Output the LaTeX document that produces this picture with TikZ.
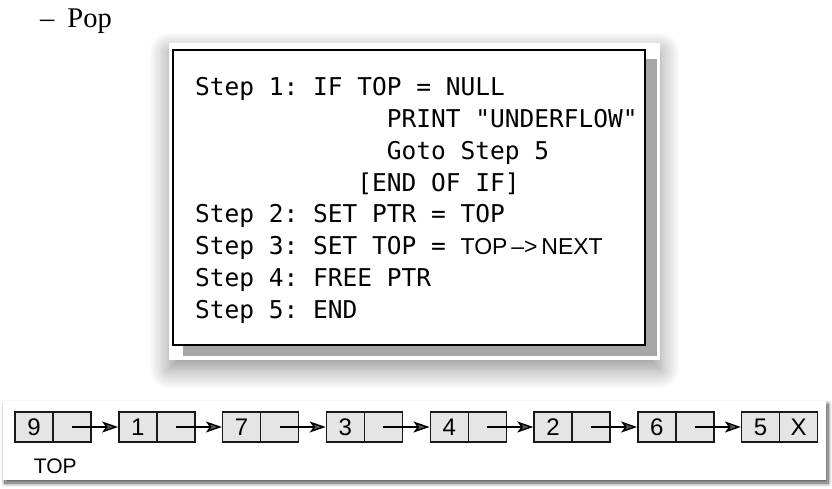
\documentclass[tikz,border=0pt]{standalone}
\usepackage{fontspec}
\usetikzlibrary{shapes}
\usetikzlibrary{arrows.meta}
\usetikzlibrary{positioning}
\usetikzlibrary{shadows.blur}
\newfontfamily\algofont{DejaVu Sans Mono}
\newfontfamily\listfont{Liberation Sans}
\newfontfamily\titlefont{Liberation Serif}
\tikzstyle{card} = [fill=white, blur shadow={shadow xshift=0pt, shadow yshift=-9pt,
    shadow blur radius=20pt, shadow blur steps=20, shadow opacity=45}]
\tikzstyle{listcard} = [fill=white, blur shadow={shadow xshift=2pt, shadow yshift=-3pt,
    shadow blur radius=4pt, shadow blur steps=10, shadow opacity=70}]
\tikzstyle{algobox} = [draw=black, fill=white, line width=2pt]
\tikzstyle{algotext} = [inner sep=0pt, align=left, font=\algofont\fontsize{24.5}{31.9}\selectfont\frenchspacing]
\tikzstyle{datacell} = [rectangle, draw=black!90, line width=1.4pt, fill=gray!20,
    minimum width=38pt, minimum height=30pt, inner sep=0pt, font=\listfont\fontsize{24}{24}\selectfont]
\tikzstyle{ptrcell} = [datacell]
\tikzstyle{link} = [draw, line width=1.4pt, -{Stealth[length=16pt,width=11pt,inset=4pt]}]

\begin{document}
\begin{tikzpicture}[x=1pt, y=-1pt]
    \useasboundingbox (0,0) rectangle (832,489);
    % Title
    \node [anchor=base west, inner sep=0pt, font=\titlefont\fontsize{28.5}{30}\selectfont] (title) at (40,28) {–\hspace{13pt}Pop};
    % Algorithm
    \fill [card] (169,43) rectangle (660,360);
    \fill [black!35] (183,59) rectangle (657,356);
    \draw [algobox] (173,50) rectangle (645,345);
    \node [algotext, anchor=north west] (algo) at (195,77) {Step 1: IF TOP = NULL\\
        ~~~~~~~~~~~~~PRINT "UNDERFLOW"\\
        ~~~~~~~~~~~~~Goto Step 5\\
        ~~~~~~~~~~~[END OF IF]\\
        Step 2: SET PTR = TOP\\
        Step 3: SET TOP = {\listfont\fontsize{23}{23}\selectfont TOP\,–>\,NEXT}\\
        Step 4: FREE PTR\\
        Step 5: END};
    % Linked list
    \fill [listcard] (3,401) rectangle (826,480);
    \node [datacell] (d9) at (34,427) {9};
    \node [ptrcell, right of=d9, node distance=38pt] (p9) {};
    \node [datacell, right of=d9, node distance=103.8pt] (d1) {1};
    \node [ptrcell, right of=d1, node distance=38pt] (p1) {};
    \node [datacell, right of=d1, node distance=103.8pt] (d7) {7};
    \node [ptrcell, right of=d7, node distance=38pt] (p7) {};
    \node [datacell, right of=d7, node distance=103.8pt] (d3) {3};
    \node [ptrcell, right of=d3, node distance=38pt] (p3) {};
    \node [datacell, right of=d3, node distance=103.8pt] (d4) {4};
    \node [ptrcell, right of=d4, node distance=38pt] (p4) {};
    \node [datacell, right of=d4, node distance=103.8pt] (d2) {2};
    \node [ptrcell, right of=d2, node distance=38pt] (p2) {};
    \node [datacell, right of=d2, node distance=103.8pt] (d6) {6};
    \node [ptrcell, right of=d6, node distance=38pt] (p6) {};
    \node [datacell, right of=d6, node distance=103.8pt] (d5) {5};
    \node [ptrcell, right of=d5, node distance=38pt] (p5) {X};
    \node [below=16pt of p9.south west, xshift=3pt, inner sep=0pt, font=\listfont\fontsize{21}{21}\selectfont] (top) {TOP};
    % Draw links
    \path [link] (p9.center) -- (d1.west);
    \path [link] (p1.center) -- (d7.west);
    \path [link] (p7.center) -- (d3.west);
    \path [link] (p3.center) -- (d4.west);
    \path [link] (p4.center) -- (d2.west);
    \path [link] (p2.center) -- (d6.west);
    \path [link] (p6.center) -- (d5.west);
\end{tikzpicture}
\end{document}
